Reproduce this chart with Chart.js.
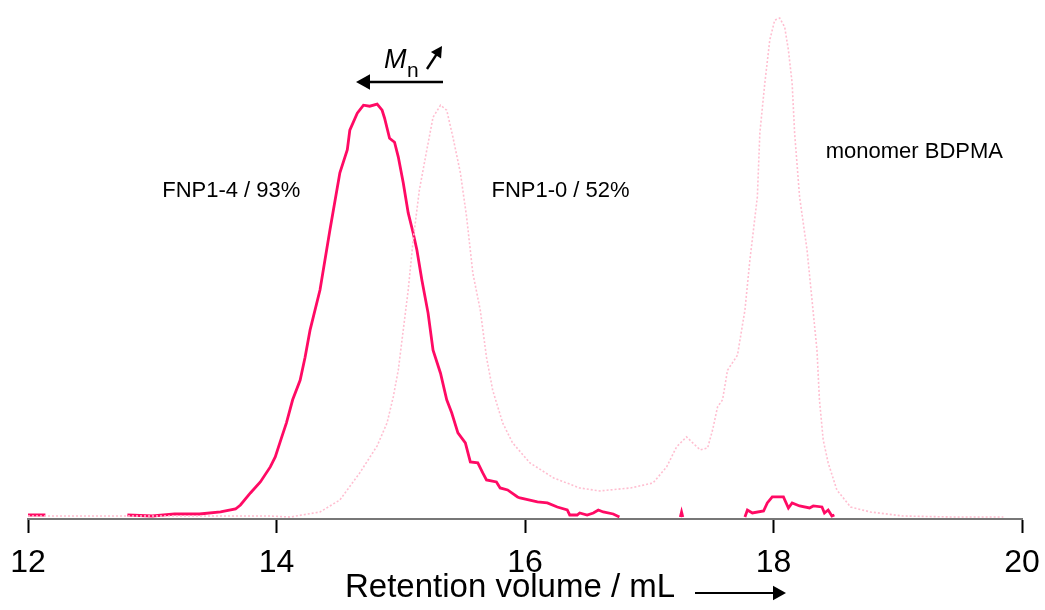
<!DOCTYPE html>
<html>
<head>
<meta charset="utf-8">
<script src="https://cdn.jsdelivr.net/npm/chart.js@4/dist/chart.umd.min.js"></script>
<style>
  body { margin: 0; background: #fff; }
</style>
</head>
<body>
<canvas id="gpc" width="1045" height="610"></canvas>
<script>
// FNP1-4 trace (null = signal below baseline, not drawn)
var fnp14Volume = [12.00, 12.14, 12.20, 12.80, 13.00, 13.18, 13.38, 13.55, 13.67, 13.71, 13.79, 13.87, 13.95, 13.99,
  14.04, 14.08, 14.13, 14.19, 14.23, 14.27, 14.35, 14.43, 14.51, 14.57, 14.59, 14.65, 14.70, 14.75, 14.81,
  14.85, 14.87, 14.91, 14.95, 14.98, 15.02, 15.06, 15.10, 15.13, 15.17, 15.22, 15.26, 15.32, 15.37, 15.41,
  15.46, 15.52, 15.56, 15.62, 15.66, 15.69, 15.77, 15.80, 15.86, 15.94, 15.96, 16.10, 16.18, 16.26, 16.34,
  16.36, 16.42, 16.44, 16.50, 16.55, 16.59, 16.63, 16.71, 16.76, 16.80,
  17.25, 17.26, 17.27, 17.30,
  17.77, 17.79, 17.83, 17.92, 17.95, 17.99, 18.08, 18.12, 18.15, 18.21, 18.29, 18.32, 18.39, 18.41, 18.44,
  18.47, 18.49];
var fnp14Signal = [0.8, 0.8, null, 0.8, 0.6, 1.0, 1.0, 1.4, 2.0, 2.8, 5.2, 7.4, 10.4, 12.4,
  16.2, 19.2, 23.8, 27.7, 32.3, 37.7, 45.7, 57.7, 69.1, 73.7, 77.6, 81.0, 82.6, 82.4, 82.8,
  81.6, 80.0, 76.0, 75.2, 72.3, 67.1, 61.1, 57.1, 53.7, 47.7, 41.1, 33.7, 29.1, 23.8, 21.2,
  17.2, 15.2, 11.4, 11.2, 9.2, 7.8, 7.4, 6.2, 5.8, 4.4, 4.2, 3.4, 3.2, 2.4, 1.8,
  0.8, 0.8, 1.2, 0.8, 1.2, 1.8, 1.4, 1.0, 0.4, null,
  0.4, 1.4, 0.4, null,
  0.4, 1.8, 1.2, 1.6, 3.2, 4.4, 4.4, 2.2, 3.2, 2.6, 2.2, 2.6, 2.4, 1.2, 1.8,
  0.6, 0.8];

// FNP1-0 trace, including the residual monomer peak
var fnp10Volume = [12.00, 13.95, 14.11, 14.35, 14.51, 14.67, 14.81, 14.89, 14.94, 14.98, 15.01, 15.06, 15.10,
  15.15, 15.21, 15.26, 15.32, 15.37, 15.42, 15.48, 15.53, 15.58, 15.64, 15.69, 15.74, 15.82, 15.90, 16.04,
  16.23, 16.44, 16.60, 16.85, 17.03, 17.14, 17.22, 17.30, 17.35, 17.41, 17.47, 17.51, 17.55, 17.59, 17.63,
  17.71, 17.77, 17.81, 17.87, 17.89, 17.93, 17.97, 18.01, 18.05, 18.09, 18.12, 18.15, 18.17, 18.21, 18.27,
  18.31, 18.35, 18.37, 18.40, 18.44, 18.51, 18.62, 18.78, 19.04, 19.44, 19.85];
var fnp10Signal = [0.6, 0.6, 0.4, 1.4, 3.8, 9.2, 14.6, 19.2, 24.4, 29.7, 35.7, 45.7, 55.7,
  65.7, 73.7, 80.2, 82.6, 81.6, 76.2, 69.1, 60.3, 49.1, 41.7, 32.3, 25.7, 19.2, 15.2, 11.2,
  8.2, 6.2, 5.6, 6.2, 7.2, 10.4, 14.4, 16.4, 15.2, 13.8, 14.2, 17.8, 22.4, 23.8, 29.7,
  32.7, 41.7, 51.7, 64.3, 77.0, 87.0, 95.6, 99.6, 100, 98.2, 93.6, 87.0, 77.0, 64.3, 53.7,
  43.7, 33.7, 23.7, 15.8, 11.2, 5.8, 2.4, 1.4, 0.6, 0.4, 0.4];

var volumeTicks = [12, 14, 16, 18, 20];

function toPoints(xs, ys) {
  return xs.map(function (x, i) { return { x: x, y: ys[i] }; });
}

var font = "'Liberation Sans', Arial, sans-serif";

function arrow(c, x1, y1, x2, y2, width, head) {
  var a = Math.atan2(y2 - y1, x2 - x1);
  c.save();
  c.strokeStyle = '#000';
  c.fillStyle = '#000';
  c.lineWidth = width;
  c.beginPath();
  c.moveTo(x1, y1);
  c.lineTo(x2 - Math.cos(a) * head * 0.8, y2 - Math.sin(a) * head * 0.8);
  c.stroke();
  c.beginPath();
  c.moveTo(x2, y2);
  c.lineTo(x2 - Math.cos(a) * head + Math.sin(a) * head * 0.55, y2 - Math.sin(a) * head - Math.cos(a) * head * 0.55);
  c.lineTo(x2 - Math.cos(a) * head - Math.sin(a) * head * 0.55, y2 - Math.sin(a) * head + Math.cos(a) * head * 0.55);
  c.closePath();
  c.fill();
  c.restore();
}

// peak labels, Mn arrows and the axis title
var annotations = {
  id: 'annotations',
  afterDraw: function (chart) {
    var c = chart.ctx;
    var xs = chart.scales.x, ys = chart.scales.y;
    c.save();
    c.fillStyle = '#000';
    c.textBaseline = 'alphabetic';
    c.font = '22px ' + font;
    c.fillText('FNP1-4 / 93%', xs.getPixelForValue(13.08), ys.getPixelForValue(64.3));
    c.fillText('FNP1-0 / 52%', xs.getPixelForValue(15.73), ys.getPixelForValue(64.3));
    c.fillText('monomer BDPMA', xs.getPixelForValue(18.42), ys.getPixelForValue(72.1));

    c.font = 'italic 27px ' + font;
    c.fillText('M', 384, 68);
    c.font = '21px ' + font;
    c.fillText('n', 407, 77);
    arrow(c, 443, 82, 356, 82, 2.6, 14);
    arrow(c, 427, 69, 442, 46, 2.4, 11);

    c.font = '33px ' + font;
    c.fillText('Retention volume / mL', 345, 597);
    arrow(c, 695, 593, 786, 593, 2, 13);
    c.restore();
  }
};

new Chart(document.getElementById('gpc'), {
  type: 'line',
  data: {
    datasets: [{
      label: 'FNP1-0',
      data: toPoints(fnp10Volume, fnp10Signal),
      borderColor: '#ffbed0',
      borderWidth: 1.6,
      borderDash: [2, 2],
      pointRadius: 0,
      tension: 0,
      spanGaps: false
    }, {
      label: 'FNP1-4',
      data: toPoints(fnp14Volume, fnp14Signal),
      borderColor: '#ff0a64',
      borderWidth: 2.8,
      pointRadius: 0,
      tension: 0,
      spanGaps: false
    }]
  },
  options: {
    responsive: false,
    animation: false,
    devicePixelRatio: 1,
    layout: { padding: { left: 28, right: 23, top: 0, bottom: 26 } },
    plugins: { legend: { display: false }, tooltip: { enabled: false } },
    scales: {
      x: {
        type: 'linear',
        min: 12,
        max: 20,
        afterBuildTicks: function (axis) {
          axis.ticks = volumeTicks.map(function (v) { return { value: v }; });
        },
        // fixed axis box so the plot area lands where it should
        afterFit: function (axis) {
          axis.paddingLeft = 0;
          axis.paddingRight = 0;
          axis.height = 65;
        },
        grid: { drawOnChartArea: false, drawTicks: true, tickLength: 14, tickColor: '#000', tickWidth: 2 },
        border: { color: '#777', width: 2 },
        ticks: { color: '#000', padding: 11, maxRotation: 0, font: { size: 32, family: font } }
      },
      y: {
        display: false,
        min: 0,
        max: 103.6
      }
    }
  },
  plugins: [annotations]
});
</script>
</body>
</html>
